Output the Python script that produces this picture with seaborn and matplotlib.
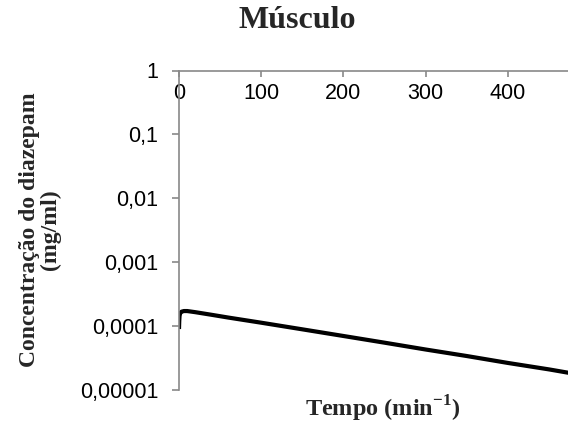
import matplotlib
matplotlib.use("Agg")
import matplotlib.pyplot as plt
import matplotlib.ticker as mticker
import seaborn as sns
import pandas as pd

# Diazepam concentration in muscle over time
tempo = [0, 0.3, 0.7, 1.5, 3, 6, 10, 20, 40, 60, 100, 150, 200, 250, 300,
         350, 400, 450, 480]
concentracao = [9.0e-5, 1.2e-4, 1.45e-4, 1.6e-4, 1.68e-4, 1.72e-4, 1.72e-4,
                1.65e-4, 1.50e-4, 1.36e-4, 1.13e-4, 8.9e-5, 7.0e-5, 5.5e-5,
                4.3e-5, 3.4e-5, 2.65e-5, 2.1e-5, 1.8e-5]

y_ticks = [1, 0.1, 0.01, 0.001, 0.0001, 0.00001]
y_tick_labels = ["1", "0,1", "0,01", "0,001", "0,0001", "0,00001"]
x_ticks = [0, 100, 200, 300, 400]
x_tick_labels = ["0", "100", "200", "300", "400"]

titulo = "Músculo"
rotulo_y = "Concentração do diazepam\n(mg/ml)"
rotulo_x = r"Tempo (min$^{\mathbf{-1}}$)"

df = pd.DataFrame({"tempo": tempo, "concentracao": concentracao})

sns.set_theme(style="white")
plt.rcParams["font.family"] = ["Liberation Sans", "DejaVu Sans"]
plt.rcParams["mathtext.fontset"] = "custom"
plt.rcParams["mathtext.rm"] = "Liberation Serif:bold"
plt.rcParams["mathtext.bf"] = "Liberation Serif:bold"

fig = plt.figure(figsize=(5.68, 4.28), dpi=100)
ax = fig.add_axes([179 / 568, 1 - 390 / 428, 1 - 179 / 568, (390 - 70.5) / 428])

sns.lineplot(data=df, x="tempo", y="concentracao", ax=ax, color="black",
             linewidth=3.0, solid_capstyle="butt")

ax.set_yscale("log")
ax.set_ylim(0.00001, 1)
ax.set_xlim(0, 473)

grey = "#898989"
for side in ("right", "bottom"):
    ax.spines[side].set_visible(False)
for side in ("left", "top"):
    ax.spines[side].set_color(grey)
    ax.spines[side].set_linewidth(1.2)

ax.yaxis.set_major_locator(mticker.FixedLocator(y_ticks))
ax.yaxis.set_minor_locator(mticker.NullLocator())
ax.set_yticklabels(y_tick_labels)
ax.set_xticks(x_ticks)
ax.set_xticklabels(x_tick_labels)

ax.tick_params(axis="y", direction="out", length=5, width=1.2, color=grey,
               pad=10, labelsize=15.5, labelcolor="black", left=True)
ax.tick_params(axis="x", bottom=False, labelbottom=False, top=True,
               labeltop=True, direction="in", length=4, width=1.2,
               color=grey, pad=-9, labelsize=15.5, labelcolor="black")
for lbl in ax.get_xticklabels():
    lbl.set_verticalalignment("top")

ax.set_xlabel("")
ax.set_ylabel("")

serif = ["Liberation Serif", "DejaVu Serif"]
fig.text(297.5 / 568, 1 - 21 / 428, titulo, family=serif, fontweight="bold",
         fontsize=23, ha="center", va="center")
fig.text(40 / 568, 1 - 230 / 428, rotulo_y, family=serif, fontweight="bold",
         fontsize=17, rotation=90, ha="center", va="center",
         multialignment="center", linespacing=0.95)
fig.text(305 / 568, 1 - 409 / 428, rotulo_x, family=serif, fontweight="bold",
         fontsize=17.5, ha="left", va="center")

fig.savefig("out.png", dpi=100)
